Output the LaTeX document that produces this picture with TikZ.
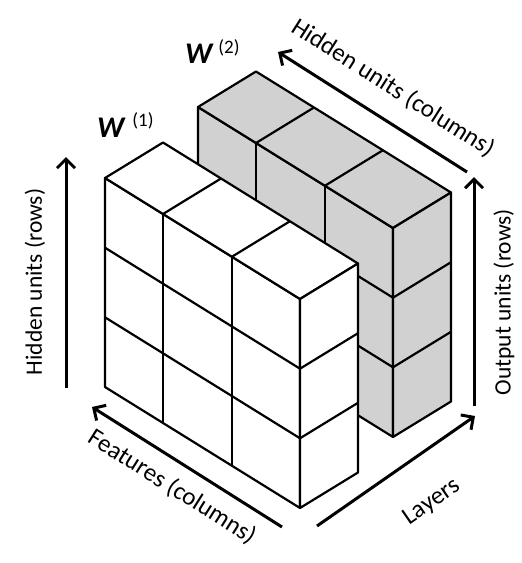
\documentclass[tikz,border=0pt]{standalone}
\usepackage{fontspec}
\setmainfont{Carlito}
\usetikzlibrary{arrows.meta}
\definecolor{cubegray}{RGB}{209,209,209}
\newcommand\drawblock[1]{%
  \filldraw[fill=#1] (105,178) -- (300,299) -- (300,508) -- (105,387) -- cycle;
  \filldraw[fill=#1] (105,178) -- (163,142.5) -- (358,263.5) -- (300,299) -- cycle;
  \filldraw[fill=#1] (300,299) -- (358,263.5) -- (358,472.5) -- (300,508) -- cycle;
  \draw (163,214) -- (163,423) (232,256.7) -- (232,465.7);
  \draw (105,247.7) -- (300,368.7) (105,317.3) -- (300,438.3);
  \draw (163,214) -- (221,178.5) (232,256.7) -- (290,221.2);
  \draw (300,368.7) -- (358,333.2) (300,438.3) -- (358,402.8);
}
\begin{document}
\begin{tikzpicture}[x=1pt,y=-1pt,
  cube/.style={line width=2.2pt,line join=round},
  axisarrow/.style={line width=3pt,-{Straight Barb[length=9pt,width=18pt]}},
  axislabel/.style={font=\fontsize{23.5}{27}\selectfont,inner sep=0pt},
  diaglabel/.style={font=\fontsize{25}{29}\selectfont,inner sep=0pt},
  wlabel/.style={anchor=base west,inner sep=0pt}]
\useasboundingbox (0,0) rectangle (522,563);
% back block W(2)
\begin{scope}[cube,shift={(93,-71)}]
  \drawblock{cubegray}
\end{scope}
% front block W(1)
\begin{scope}[cube]
  \drawblock{white}
\end{scope}
% arrows
\coordinate (lA) at (66,388); \coordinate (lB) at (66,157);
\coordinate (rA) at (474,406); \coordinate (rB) at (474,177);
\coordinate (tA) at (467,172); \coordinate (tB) at (278,52);
\coordinate (fA) at (282,527); \coordinate (fB) at (92,407);
\coordinate (yA) at (317,526); \coordinate (yB) at (475,416);
\draw[axisarrow] (lA) -- (lB);
\draw[axisarrow] (rA) -- (rB);
\draw[axisarrow] (tA) -- (tB);
\draw[axisarrow] (fA) -- (fB);
\draw[axisarrow] (yA) -- (yB);
% labels
\node[axislabel,rotate=90] (hr) at (35,282) {Hidden units (rows)};
\node[axislabel,rotate=90] (or) at (504,302) {Output units (rows)};
\node[diaglabel,rotate=-32.4] (hc) at (393,88) {Hidden units (columns)};
\node[diaglabel,rotate=-32.3] (fc) at (172,487) {Features (columns)};
\node[diaglabel,rotate=34.8] (ly) at (432,502) {Layers};
\node[wlabel] (w1) at (97,137) {{\fontsize{30}{30}\selectfont\bfseries\itshape W}\hspace{8pt}\raisebox{11pt}{\fontsize{19}{19}\selectfont (1)}};
\node[wlabel] (w2) at (185,63) {{\fontsize{30}{30}\selectfont\bfseries\itshape W}\hspace{6pt}\raisebox{10pt}{\fontsize{19}{19}\selectfont (2)}};
\end{tikzpicture}
\end{document}
